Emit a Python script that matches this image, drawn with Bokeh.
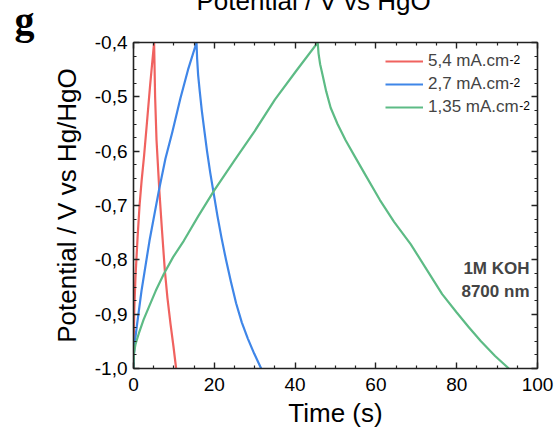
from bokeh.plotting import figure
from bokeh.models import (Range1d, LinearAxis, FixedTicker, CustomJSTickFormatter,
                          CustomLabelingPolicy, Label, Legend, LegendItem, ColumnDataSource, Title)
from bokeh.embed import file_html
from bokeh.resources import INLINE

# ---- data ----
red_t = [0, 0.05, 0.2, 0.5, 1.0, 1.5, 2.0, 2.6, 3.3, 4.1, 5.1,
         5.35, 5.7, 6.4, 7.0, 7.76, 8.4, 9.16, 9.9, 10.55]
red_v = [-1.0, -0.95, -0.89, -0.83, -0.76, -0.70, -0.655, -0.61, -0.55, -0.48, -0.40,
         -0.50, -0.58, -0.673, -0.74, -0.82, -0.87, -0.918, -0.96, -1.0]

blue_t = [0, 0.1, 0.35, 0.9, 1.98, 3.96, 6.27, 7.9, 9.6, 11.6, 13.5, 15.6,
          15.75, 16.0, 16.4, 16.9, 17.5, 18.2, 19.0, 19.9, 20.8, 21.8, 22.9, 24.1, 25.4, 26.8, 28.3, 29.9, 31.6]
blue_v = [-1.0, -0.975, -0.95, -0.918, -0.857, -0.765, -0.673, -0.614, -0.565, -0.503, -0.45, -0.40,
          -0.43, -0.46, -0.49, -0.525, -0.56, -0.60, -0.64, -0.68, -0.72, -0.76, -0.80, -0.84, -0.88, -0.915, -0.945, -0.973, -1.0]

green_t = [0, 0.1, 0.5, 1.3, 2.5, 3.8, 5.5, 7.5, 9.8, 12.45, 16.0, 19.9, 25.0, 30.0, 35.0, 40.3, 45.6,
           45.8, 46.2, 46.8, 47.7, 48.8, 50.5, 52.5, 54.8, 57.5, 61.0, 64.5, 68.6, 72.5, 76.4, 80.0, 83.0, 86.0, 89.5, 92.9]
green_v = [-1.0, -0.973, -0.955, -0.936, -0.91, -0.887, -0.857, -0.826, -0.795, -0.765, -0.72, -0.673, -0.617, -0.563, -0.505, -0.452, -0.40,
           -0.42, -0.44, -0.46, -0.49, -0.52, -0.55, -0.58, -0.61, -0.645, -0.69, -0.73, -0.771, -0.817, -0.863, -0.897, -0.924, -0.95, -0.977, -1.0]

series_labels = ["5,4 mA.cm", "2,7 mA.cm", "1,35 mA.cm"]
series_colors = ["#F0625F", "#3F86E8", "#5DBB85"]

x_ticks = [0, 20, 40, 60, 80, 100]
x_minor = [v for v in range(0, 101, 5) if v % 20]
y_ticks = [-1.0, -0.9, -0.8, -0.7, -0.6, -0.5, -0.4]
y_minor = [round(-1.0 + 0.025 * i, 3) for i in range(25)]

FONT = "Liberation Sans"
SHIFT = 20  # canvas is raised by this many px so the title can be cut at the top

p = figure(width=558, height=430 + SHIFT, output_backend="svg", toolbar_location=None,
           x_range=Range1d(0, 100), y_range=Range1d(-1.0, -0.4),
           x_axis_location=None, y_axis_location=None,
           min_border_left=133, min_border_right=21, min_border_top=42 + SHIFT,
           min_border_bottom=62)
p.styles = {"margin-top": f"-{SHIFT}px"}
p.grid.visible = False
p.outline_line_color = None
p.background_fill_color = "white"
p.border_fill_color = "white"

renderers = []
for t, v, c in zip([red_t, blue_t, green_t], [red_v, blue_v, green_v], series_colors):
    src = ColumnDataSource(dict(t=t, v=v))
    renderers.append(p.line("t", "v", source=src, line_color=c, line_width=2.2,
                            line_join="round"))

fmt = CustomJSTickFormatter(code="return tick.toFixed(1).replace('.', ',');")
blank = CustomJSTickFormatter(code="return '';")
no_labels = CustomLabelingPolicy(code="""
for (const i of indices) { indices.unset(i) }
return indices
""")


def style_axis(ax, show_labels):
    ax.axis_line_color = "#222222"
    ax.axis_line_width = 1.6
    ax.major_tick_line_color = "#222222"
    ax.minor_tick_line_color = "#222222"
    ax.major_tick_line_width = 1.4
    ax.minor_tick_line_width = 1.2
    ax.major_tick_in = 6
    ax.major_tick_out = 0
    ax.minor_tick_in = 3
    ax.minor_tick_out = 0
    ax.major_label_text_font = FONT
    ax.major_label_text_font_size = "19px"
    ax.major_label_text_color = "black"
    ax.axis_label_text_font = FONT
    ax.axis_label_text_font_size = "26px"
    ax.axis_label_text_font_style = "normal"
    ax.axis_label_text_color = "black"
    if not show_labels:
        ax.formatter = blank
        ax.major_label_policy = no_labels
        ax.major_label_standoff = 0
        ax.major_label_text_font_size = "1px"


xt = FixedTicker(ticks=x_ticks, minor_ticks=x_minor)
yt = FixedTicker(ticks=y_ticks, minor_ticks=y_minor)

xb = LinearAxis(ticker=xt, axis_label="Time (s)")
style_axis(xb, True)
xb.major_label_standoff = 9
xb.axis_label_standoff = 4
p.add_layout(xb, "below")

xa = LinearAxis(ticker=xt)
style_axis(xa, False)
p.add_layout(xa, "above")

# invisible spacer in the top border (only reserves room below the panel letter)
spacer = LinearAxis(ticker=xt)
style_axis(spacer, False)
spacer.axis_line_color = None
spacer.major_tick_line_color = None
spacer.minor_tick_line_color = None
spacer.major_tick_in = 0
spacer.minor_tick_in = 0
spacer.major_tick_out = 20
p.add_layout(spacer, "above")

yl = LinearAxis(ticker=yt, formatter=fmt, axis_label="Potential / V vs Hg/HgO")
style_axis(yl, True)
yl.major_label_standoff = 6
yl.axis_label_standoff = 10
p.add_layout(yl, "left")

yr = LinearAxis(ticker=yt)
style_axis(yr, False)
p.add_layout(yr, "right")

legend = Legend(items=[LegendItem(label=l, renderers=[r]) for l, r in zip(series_labels, renderers)],
                location=(252, 251.3), padding=0, margin=0, spacing=3,
                glyph_width=38, glyph_height=20, label_height=20, label_standoff=5,
                label_text_font=FONT, label_text_font_size="17px",
                border_line_alpha=0, background_fill_alpha=0)
p.add_layout(legend, "center")

# superscripts of the legend labels
for sx, sy in [(376, 309), (376, 286.4), (385.7, 263)]:
    p.add_layout(Label(x=sx, y=sy, x_units="screen", y_units="screen", text="-2",
                       text_font=FONT, text_font_size="12px", text_baseline="alphabetic",
                       text_color="black"))

p.add_layout(Label(x=396, y=100, x_units="screen", y_units="screen", text="1M KOH",
                   text_font=FONT, text_font_size="17px", text_font_style="bold",
                   text_align="right", text_baseline="alphabetic"))
p.add_layout(Label(x=396, y=77, x_units="screen", y_units="screen", text="8700 nm",
                   text_font=FONT, text_font_size="17px", text_font_style="bold",
                   text_align="right", text_baseline="alphabetic"))

# panel letter (a title placed in the top border, next to the axis)
g_title = Title(text="g", align="left", offset=-119, standoff=-40,
                text_font="Liberation Serif", text_font_size="40px", text_font_style="bold",
                text_color="black", vertical_align="bottom")
p.add_layout(g_title, "above")

p.title.text = "Potential / V vs HgO"
p.title.align = "left"
p.title.offset = 63
p.title.standoff = 0
p.title.text_font = FONT
p.title.text_font_size = "26px"
p.title.text_font_style = "normal"
p.title.text_color = "black"
p.title.vertical_align = "bottom"

open("out.html", "w").write(file_html(p, INLINE))
